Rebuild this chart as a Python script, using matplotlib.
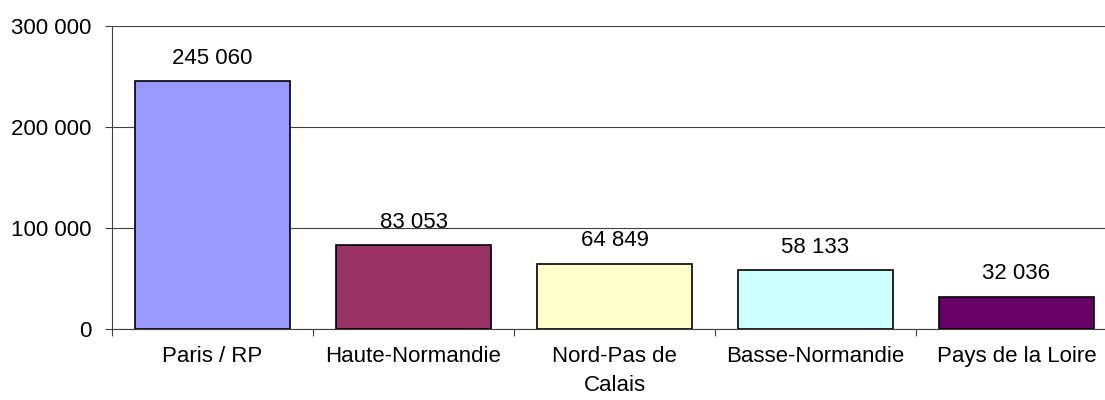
import matplotlib.pyplot as plt
import numpy as np

plt.rcParams['font.family'] = ['Liberation Sans', 'DejaVu Sans']

regions = ['Paris / RP', 'Haute-Normandie', 'Nord-Pas de\nCalais', 'Basse-Normandie', 'Pays de la Loire']
values = [245060, 83053, 64849, 58133, 32036]
colors = ['#9999FF', '#993366', '#FFFFCC', '#CCFFFF', '#660066']


def fmt(v):
    return f'{v:,}'.replace(',', ' ')


fs = 16
fig = plt.figure(figsize=(11.05, 4), dpi=100)
ax = fig.add_axes([112 / 1105, 71 / 400, 1005 / 1105, 303 / 400])

x = np.arange(len(values))
ax.bar(x, values, width=0.77, color=colors, edgecolor='black', linewidth=1.2, zorder=3)

for xi, v in zip(x, values):
    ax.annotate(fmt(v), (xi, v), xytext=(0, 9), textcoords='offset points',
                ha='center', va='bottom', fontsize=fs)

ax.set_xlim(-0.5, len(values) - 0.5)
ax.set_ylim(0, 300000)
yt = [0, 100000, 200000, 300000]
ax.set_yticks(yt)
ax.set_yticklabels([fmt(t) for t in yt], fontsize=fs)

# x ticks on category boundaries, labels centred
ax.set_xticks(np.arange(len(values) + 1) - 0.5)
ax.set_xticklabels([])
ax.set_xticks(x, minor=True)
ax.set_xticklabels(regions, minor=True, fontsize=fs, linespacing=1.5)
ax.tick_params(axis='x', which='minor', length=0, pad=12)
ax.tick_params(axis='x', which='major', length=5, color='#404040')
ax.tick_params(axis='y', length=5, color='#404040', pad=10)

ax.yaxis.grid(True, color='#404040', linewidth=0.8, zorder=0)
for s in ['top', 'right']:
    ax.spines[s].set_visible(False)
ax.spines['left'].set_color('#404040')
ax.spines['bottom'].set_color('#404040')

fig.savefig('out.png', dpi=100)
